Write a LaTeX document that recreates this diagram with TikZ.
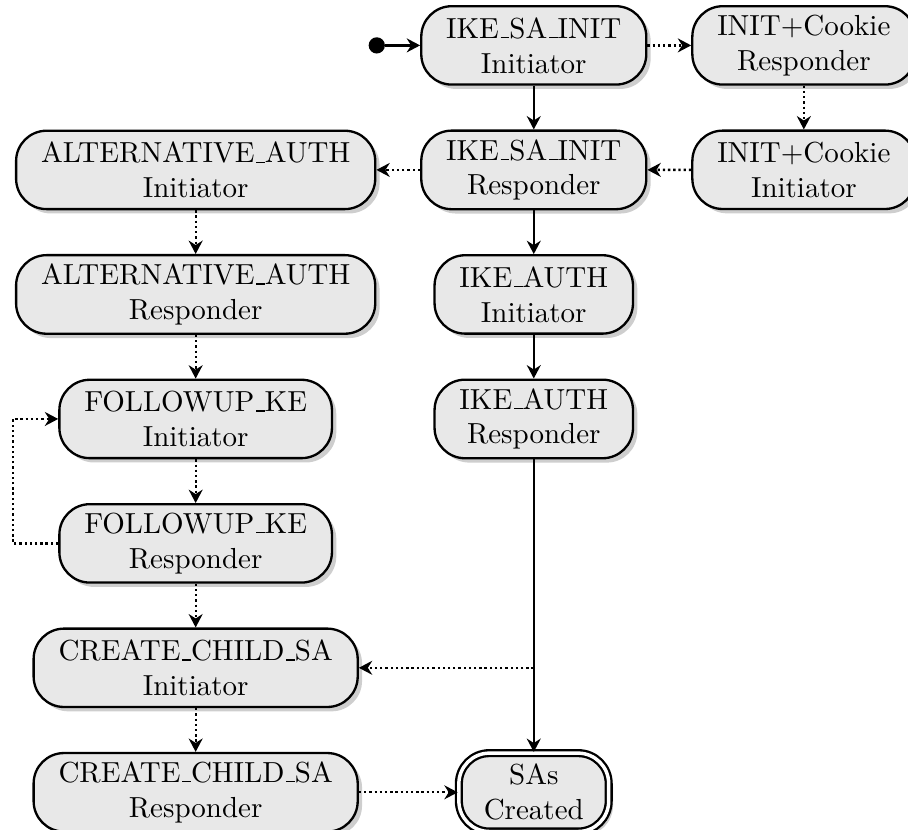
\documentclass[tikz,border=0pt]{standalone}
\usetikzlibrary{arrows.meta,positioning,shadows}
\definecolor{ink}{RGB}{0,0,0}
\definecolor{stagefill}{RGB}{232,232,232}
% short low rule, as in the classic \_
\newcommand\usc{\leavevmode\kern.06em\vbox{\hrule width.3em}}

\begin{document}
\begin{tikzpicture}[
    x=1cm,y=1cm,
    >={Stealth[length=4.6pt,width=4.8pt,inset=1.5pt]},
    node distance=0.53cm,
    stage/.style={
        rectangle,
        rounded corners=10.5pt,
        draw=ink,
        thick,
        fill=stagefill,
        drop shadow={shadow xshift=1.5pt, shadow yshift=-1.5pt, fill=black!38},
        inner xsep=8.6pt,
        inner ysep=3pt,
        minimum height=0.95cm,
        align=center
    },
    final/.style={stage, double, double distance=1.2pt},
    flow/.style={->, thick, draw=ink},
    opt/.style={->, thick, densely dotted, draw=ink}
]
\useasboundingbox (0,0) rectangle (11.006,-10.06);

% Main exchange
\node[stage] (init1) at (6.47,-0.55) {IKE\usc SA\usc INIT\\Initiator};
\node[circle, fill=ink, minimum size=5.6pt, inner sep=0pt, left=0.42cm of init1] (start) {};
\node[stage, right=of init1] (cookie1) {INIT+Cookie\\Responder};
\node[stage, below=of init1] (resp1) {IKE\usc SA\usc INIT\\Responder};
\node[stage, below=of cookie1] (cookie2) {INIT+Cookie\\Initiator};
\node[stage, below=of resp1] (auth1) {IKE\usc AUTH\\Initiator};
\node[stage, below=of auth1] (auth2) {IKE\usc AUTH\\Responder};

% Intermediate exchanges
\node[stage, left=of resp1] (alt1) {ALTERNATIVE\usc AUTH\\Initiator};
\node[stage, below=of alt1] (alt2) {ALTERNATIVE\usc AUTH\\Responder};
\node[stage, below=of alt2] (fup1) {FOLLOWUP\usc KE\\Initiator};
\node[stage, below=of fup1] (fup2) {FOLLOWUP\usc KE\\Responder};
\node[stage, below=of fup2] (child1) {CREATE\usc CHILD\usc SA\\Initiator};
\node[stage, below=of child1] (child2) {CREATE\usc CHILD\usc SA\\Responder};

% End state
\node[final] (done) at (auth2 |- child2) {SAs\\Created};
\coordinate (split) at (auth2 |- child1);

% Solid transitions
\draw[flow] (start) -- (init1);
\draw[flow] (init1) -- (resp1);
\draw[flow] (resp1) -- (auth1);
\draw[flow] (auth1) -- (auth2);
\draw[flow] (auth2) -- (done);

% Dotted transitions
\draw[opt] (init1) -- (cookie1);
\draw[opt] (cookie1) -- (cookie2);
\draw[opt] (cookie2) -- (resp1);
\draw[opt] (resp1) -- (alt1);
\draw[opt] (alt1) -- (alt2);
\draw[opt] (alt2) -- (fup1);
\draw[opt] (fup1) -- (fup2);
\draw[opt] (fup2.west) -- ++(-0.55,0) |- (fup1.west);
\draw[opt] (fup2) -- (child1);
\draw[opt] (child1) -- (child2);
\draw[opt] (child2) -- (done);
\draw[opt] (split) -- (child1);

\end{tikzpicture}
\end{document}
